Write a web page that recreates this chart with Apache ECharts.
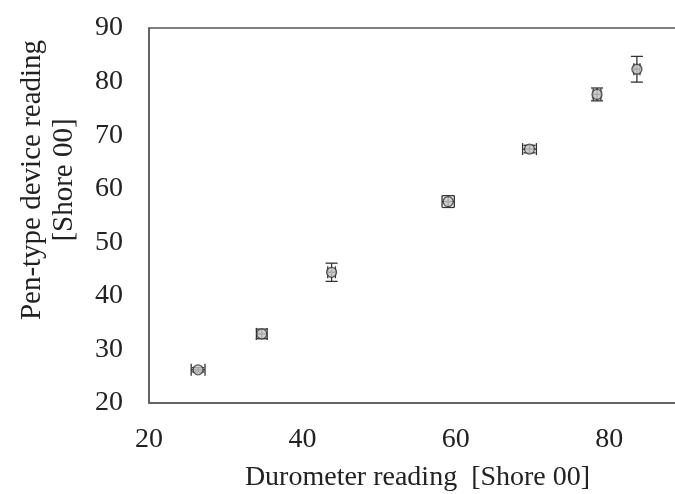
<!DOCTYPE html>
<html>
<head>
    <meta charset="utf-8">
    <script src="https://cdn.jsdelivr.net/npm/echarts@6/dist/echarts.min.js"></script>
</head>
<body style="margin:0;background:#fff;">
<div id="main" style="width: 675px;height:494px;"></div>

<script type="text/javascript">
    // durometer reading (x) vs pen-type device reading (y), with error bars
    var durometer = [26.4, 34.7, 43.8, 59.0, 69.6, 78.4, 83.6];
    var penDevice = [26.2, 32.9, 44.4, 57.6, 67.4, 77.6, 82.3];
    var xErr = [0.9, 0.7, 0.5, 0.8, 0.9, 0.5, 0.4];
    var yErr = [0.4, 0.9, 1.7, 1.1, 0.7, 1.2, 2.4];
    var xTicks = [20, 40, 60, 80, 90];
    var yTicks = [20, 30, 40, 50, 60, 70, 80, 90];

    var points = [];
    var bars = [];
    for (var i = 0; i < durometer.length; i++) {
        points.push([durometer[i], penDevice[i]]);
        bars.push([durometer[i], penDevice[i], xErr[i], yErr[i]]);
    }

    var serif = 'Liberation Serif';
    var ink = '#222';
    var lineCol = '#595959';

    var myChart = echarts.init(document.getElementById('main'));
    myChart.setOption({
        animation: false,
        backgroundColor: '#fff',
        grid: {
            left: 149, top: 28, right: -11, bottom: 91,
            outerBoundsMode: 'none', containLabel: false,
            show: true, borderColor: lineCol, borderWidth: 1.5
        },
        xAxis: {
            type: 'value',
            min: xTicks[0], max: xTicks[xTicks.length - 1], interval: 20,
            name: 'Durometer reading  [Shore 00]',
            nameLocation: 'middle', nameGap: 61,
            nameTextStyle: {fontFamily: serif, fontSize: 28, color: ink},
            axisLine: {show: true, lineStyle: {color: lineCol, width: 1.5}},
            axisTick: {show: false},
            splitLine: {show: false},
            axisLabel: {fontFamily: serif, fontSize: 28, color: ink, margin: 23, showMaxLabel: false}
        },
        yAxis: {
            type: 'value',
            min: yTicks[0], max: yTicks[yTicks.length - 1], interval: 10,
            axisLine: {show: true, lineStyle: {color: lineCol, width: 1.5}},
            axisTick: {show: false},
            splitLine: {show: false},
            axisLabel: {fontFamily: serif, fontSize: 28, color: ink, margin: 26}
        },
        graphic: [{
            type: 'text',
            x: 48, y: 180,
            rotation: Math.PI / 2,
            style: {
                text: 'Pen-type device reading\n[Shore 00]',
                fontFamily: serif, fontSize: 29, fill: ink,
                align: 'center', verticalAlign: 'middle', lineHeight: 32
            }
        }],
        series: [
            {
                type: 'custom',
                data: bars,
                z: 3,
                renderItem: function (params, api) {
                    var x = api.value(0), y = api.value(1), ex = api.value(2), ey = api.value(3);
                    var top = api.coord([x, y + ey]);
                    var bot = api.coord([x, y - ey]);
                    var lft = api.coord([x - ex, y]);
                    var rgt = api.coord([x + ex, y]);
                    var cap = 6;
                    var st = {stroke: '#333', lineWidth: 1.3};
                    return {
                        type: 'group',
                        children: [
                            {type: 'line', shape: {x1: top[0], y1: top[1], x2: bot[0], y2: bot[1]}, style: st},
                            {type: 'line', shape: {x1: top[0] - cap, y1: top[1], x2: top[0] + cap, y2: top[1]}, style: st},
                            {type: 'line', shape: {x1: bot[0] - cap, y1: bot[1], x2: bot[0] + cap, y2: bot[1]}, style: st},
                            {type: 'line', shape: {x1: lft[0], y1: lft[1], x2: rgt[0], y2: rgt[1]}, style: st},
                            {type: 'line', shape: {x1: lft[0], y1: lft[1] - cap, x2: lft[0], y2: lft[1] + cap}, style: st},
                            {type: 'line', shape: {x1: rgt[0], y1: rgt[1] - cap, x2: rgt[0], y2: rgt[1] + cap}, style: st}
                        ]
                    };
                }
            },
            {
                type: 'scatter',
                data: points,
                z: 4,
                symbol: 'circle',
                symbolSize: 10,
                itemStyle: {color: '#c4c4c4', borderColor: '#333', borderWidth: 1.3}
            }
        ]
    });
</script>
</body>
</html>
